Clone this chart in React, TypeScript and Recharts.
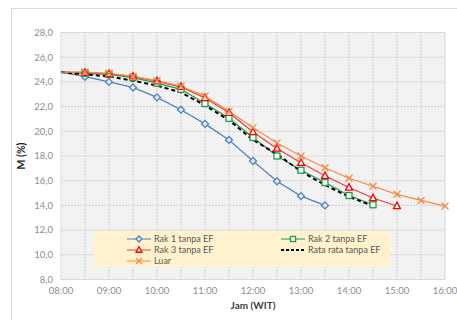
import React from 'react'
import {
  LineChart,
  Line,
  XAxis,
  YAxis,
  CartesianGrid,
  Label,
} from 'recharts'

// jam dalam desimal (08:00 .. 16:00, tiap 30 menit)
const HOURS = [8, 8.5, 9, 9.5, 10, 10.5, 11, 11.5, 12, 12.5, 13, 13.5, 14, 14.5, 15, 15.5, 16]
const RAK1 = [24.8, 24.42, 24.0, 23.55, 22.75, 21.75, 20.6, 19.3, 17.6, 15.95, 14.75, 14.0]
const RAK2 = [24.8, 24.7, 24.6, 24.35, 23.9, 23.4, 22.25, 21.05, 19.5, 18.0, 16.85, 15.85, 14.8, 14.05]
const RAK3 = [24.8, 24.75, 24.65, 24.45, 24.05, 23.6, 22.7, 21.5, 19.95, 18.6, 17.45, 16.4, 15.45, 14.6, 13.95]
const RATA = [24.8, 24.6, 24.45, 24.1, 23.7, 23.15, 22.1, 20.9, 19.3, 18.15, 16.75, 15.65, 14.7, 13.95]
const LUAR = [24.8, 24.8, 24.7, 24.45, 24.1, 23.65, 22.85, 21.6, 20.3, 19.05, 18.0, 17.05, 16.2, 15.55, 14.9, 14.4, 13.95]
const Y_TICKS = [8, 10, 12, 14, 16, 18, 20, 22, 24, 26, 28]
const X_TICKS = HOURS

type Marker = 'diamond' | 'square' | 'triangle' | 'cross' | 'none'

interface SeriesDef {
  key: string
  name: string
  color: string
  marker: Marker
  dashed?: boolean
}

const SERIES: SeriesDef[] = [
  { key: 'rak1', name: 'Rak 1 tanpa EF', color: '#4F81BD', marker: 'diamond' },
  { key: 'rak2', name: 'Rak 2 tanpa EF', color: '#1E9B4A', marker: 'square' },
  { key: 'rak3', name: 'Rak 3 tanpa EF', color: '#F03C3C', marker: 'triangle' },
  { key: 'rata', name: 'Rata rata tanpa EF', color: '#000000', marker: 'none', dashed: true },
  { key: 'luar', name: 'Luar', color: '#F58A45', marker: 'cross' },
]

const data = HOURS.map((h, i) => ({
  jam: h,
  rak1: RAK1[i] ?? null,
  rak2: RAK2[i] ?? null,
  rak3: RAK3[i] ?? null,
  rata: RATA[i] ?? null,
  luar: LUAR[i] ?? null,
}))

const drawMarker = (kind: Marker, color: string, cx: number, cy: number, r: number, key?: string) => {
  switch (kind) {
    case 'diamond':
      return (
        <polygon key={key} points={`${cx},${cy - r} ${cx + r},${cy} ${cx},${cy + r} ${cx - r},${cy}`}
          fill="#dce6f2" stroke={color} strokeWidth={1.3} />
      )
    case 'square':
      return <rect key={key} x={cx - r * 0.85} y={cy - r * 0.85} width={r * 1.7} height={r * 1.7} fill="#fff" stroke={color} strokeWidth={1.3} />
    case 'triangle':
      return (
        <polygon key={key} points={`${cx},${cy - r * 1.1} ${cx + r},${cy + r * 0.75} ${cx - r},${cy + r * 0.75}`}
          fill="#fff" stroke="#FF0000" strokeWidth={1.3} />
      )
    case 'cross':
      return (
        <g key={key} stroke={color} strokeWidth={1.3}>
          <line x1={cx - r} y1={cy - r} x2={cx + r} y2={cy + r} />
          <line x1={cx - r} y1={cy + r} x2={cx + r} y2={cy - r} />
        </g>
      )
    default:
      return <g key={key} />
  }
}

const makeDot = (s: SeriesDef) => (props: any) => {
  const { cx, cy, index, value } = props
  // titik 08:00 tanpa marker, seperti di gambar asli
  if (index === 0 || value == null || cx == null || cy == null) return <g key={`${s.key}-${index}`} />
  return drawMarker(s.marker, s.color, cx, cy, 3.5, `${s.key}-${index}`)
}

const fmtJam = (v: number) => (Number.isInteger(v) ? `${String(v).padStart(2, '0')}:00` : '')
const fmtM = (v: number) => v.toFixed(1).replace('.', ',')

const LegendBox = () => (
  <div
    style={{
      position: 'absolute',
      left: 94,
      top: 231,
      background: '#FFF2CC',
      width: 296,
      height: 36,
      display: 'grid',
      gridTemplateColumns: '187px 109px',
      gridAutoRows: '11px',
      paddingTop: 2,
      boxSizing: 'border-box',
      fontFamily: 'Lato, sans-serif',
      fontSize: 9,
      color: '#595959',
    }}
  >
    {SERIES.map((s, i) => (
      <div key={s.key} style={{ display: 'flex', alignItems: 'center', paddingLeft: i % 2 === 0 ? 33 : 0 }}>
        <svg width={24} height={10} style={{ marginRight: 3 }}>
          <line x1={0} y1={5} x2={24} y2={5} stroke={s.color} strokeWidth={s.dashed ? 1.8 : 1}
            strokeDasharray={s.dashed ? '3 2' : undefined} />
          {drawMarker(s.marker, s.color, 12, 5, 3)}
        </svg>
        <span style={{ whiteSpace: 'nowrap' }}>{s.name}</span>
      </div>
    ))}
  </div>
)

const App: React.FC = () => {
  return (
    <div style={{ position: 'absolute', left: 0, top: 0, width: 457, height: 320, overflow: 'hidden', background: '#fff' }}>
      <div style={{ position: 'absolute', left: 11, top: 8, width: 470, height: 330, border: '1px solid #d9d9d9' }} />
      <div style={{ position: 'absolute', left: 0, top: 0 }}>
        <LineChart width={457} height={320} data={data} margin={{ top: 32.5, right: 12, left: 0, bottom: 0 }}>
          <defs>
            <pattern id="hatch" patternUnits="userSpaceOnUse" width={3} height={3}>
              <rect width={3} height={3} fill="#fbfbfb" />
              <path d="M0,3 L3,0 M0,0 L3,3" stroke="#dedede" strokeWidth={0.5} />
            </pattern>
          </defs>
          <CartesianGrid stroke="#d9d9d9" fill="url(#hatch)" fillOpacity={1} />
          <XAxis
            dataKey="jam"
            type="number"
            domain={[8, 16]}
            ticks={X_TICKS}
            interval={0}
            tickFormatter={fmtJam}
            axisLine={false}
            tickLine={false}
            height={40.5}
            tick={{ fill: '#8c8c8c', fontSize: 9.5, fontFamily: 'Lato, sans-serif' }}
          >
            <Label value="Jam (WIT)" position="insideBottom" offset={11}
              style={{ fill: '#404040', fontSize: 10, fontWeight: 'bold', fontFamily: 'Lato, sans-serif' }} />
          </XAxis>
          <YAxis
            type="number"
            domain={[8, 28]}
            ticks={Y_TICKS}
            interval={0}
            tickFormatter={fmtM}
            axisLine={false}
            tickLine={false}
            width={61}
            tick={{ fill: '#8c8c8c', fontSize: 9.5, fontFamily: 'Lato, sans-serif' }}
          >
            <Label value="M (%)" angle={-90} position="insideLeft" offset={21}
              style={{ textAnchor: 'middle', fill: '#262626', fontSize: 10.5, fontWeight: 'bold', fontFamily: 'Lato, sans-serif' }} />
          </YAxis>
          {SERIES.map(s => (
            <Line
              key={s.key}
              dataKey={s.key}
              name={s.name}
              type="linear"
              stroke={s.color}
              strokeWidth={s.dashed ? 2 : 1.25}
              strokeDasharray={s.dashed ? '4 3' : undefined}
              dot={s.marker === 'none' ? false : makeDot(s)}
              activeDot={false}
              isAnimationActive={false}
            />
          ))}
        </LineChart>
      </div>
      <LegendBox />
    </div>
  )
}

export default App
